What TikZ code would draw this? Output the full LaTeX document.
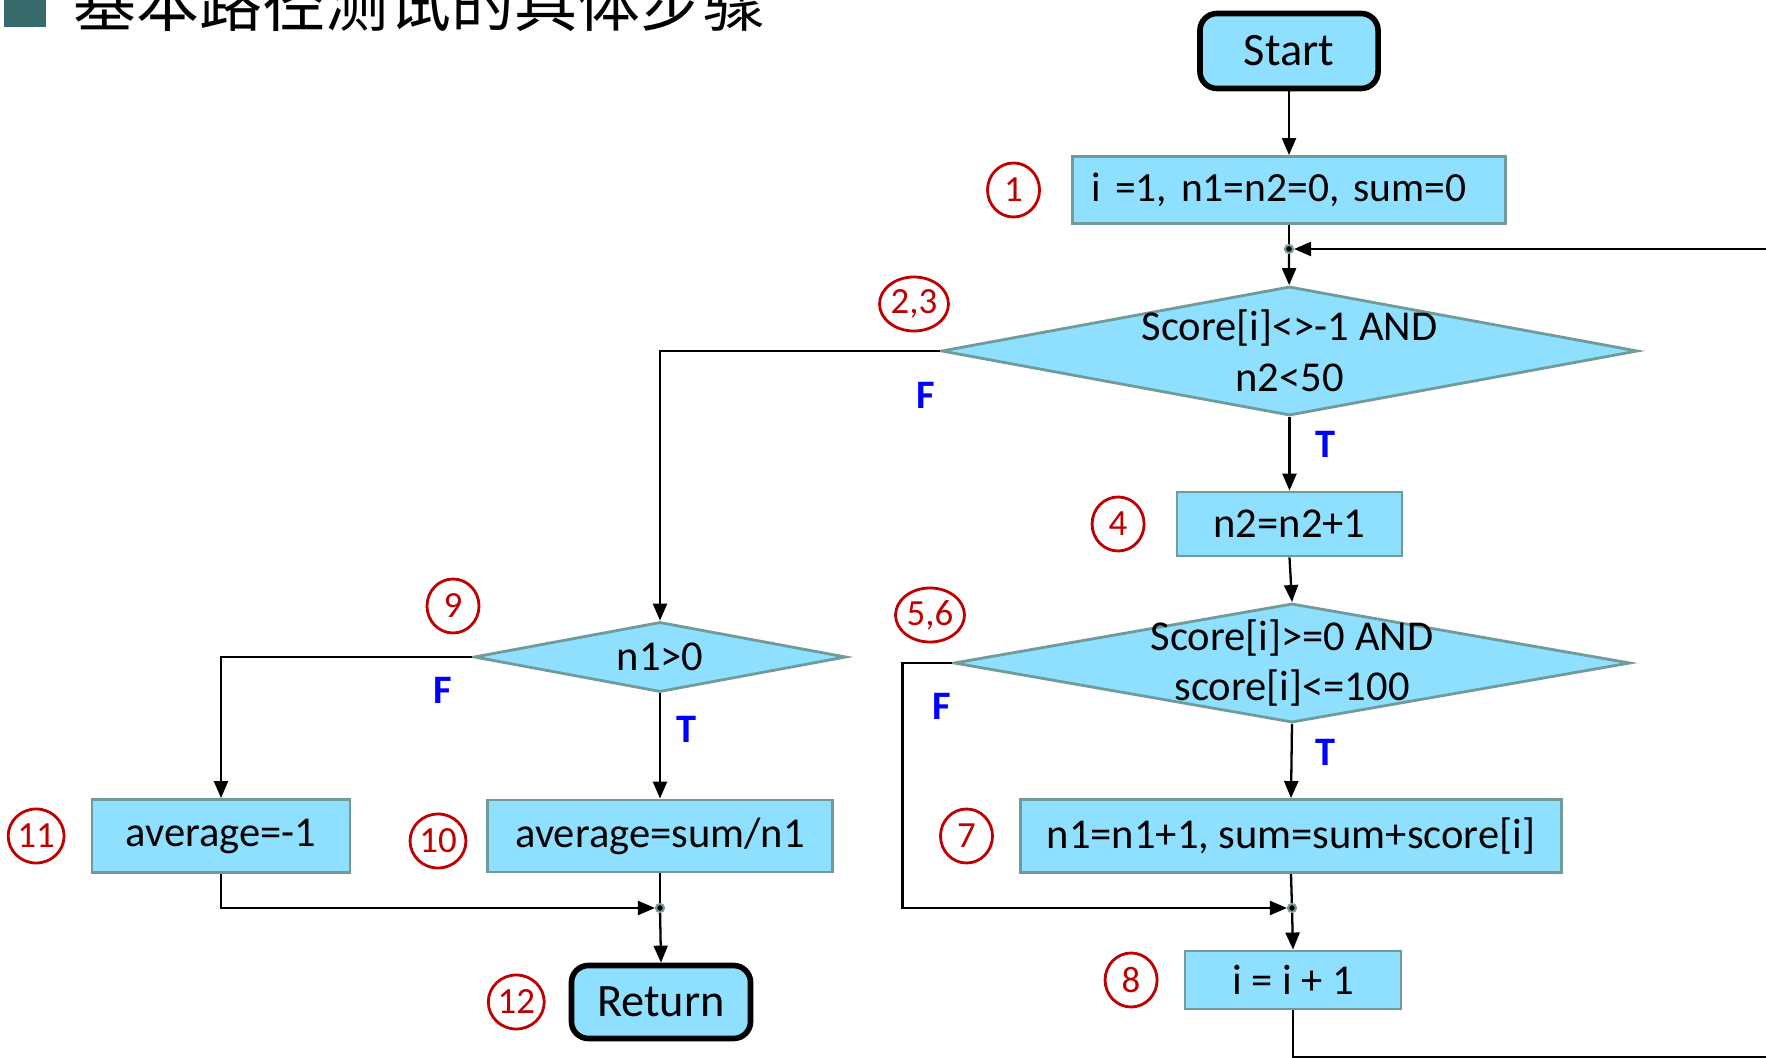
\documentclass[tikz,border=0pt]{standalone}
\usepackage{fontspec}
\setmainfont{Carlito}
\newfontfamily\cjkfont{Noto Sans CJK SC}
\usepackage{tikz}
\usetikzlibrary{positioning, arrows.meta, shapes.geometric}
\definecolor{boxfill}{RGB}{143,224,255}
\definecolor{boxline}{RGB}{112,155,155}
\definecolor{numred}{RGB}{192,0,0}
\definecolor{titlesq}{RGB}{55,106,106}

\begin{document}
\begin{tikzpicture}[
    x=0.01cm, y=-0.01cm,
    node distance=0.25cm,
    proc/.style={draw=boxline, fill=boxfill, line width=0.8pt, inner sep=0pt,
      font=\fontsize{12.1}{14.4}\selectfont},
    term/.style={draw=black, fill=boxfill, line width=1.6pt, rounded corners=0.17cm,
      inner sep=0pt, font=\fontsize{13.2}{15}\selectfont},
    cond/.style={diamond, draw=boxline, fill=boxfill, line width=0.8pt, inner sep=0pt},
    condtxt/.style={align=center, inner sep=0pt, font=\fontsize{12.1}{14.4}\selectfont},
    num/.style={ellipse, draw=numred, text=numred, line width=0.8pt, inner sep=0.3pt,
      minimum width=0.52cm, minimum height=0.54cm, font=\fontsize{10.5}{10.5}\selectfont},
    tf/.style={text=blue, font=\fontsize{11.5}{12}\selectfont\bfseries},
    junc/.style={circle, draw=boxline, fill=black, line width=0.6pt, inner sep=0pt,
      minimum size=0.08cm},
    arr/.style={-{Triangle[length=1.7mm, width=1.4mm]}, line width=0.65pt},
    ln/.style={line width=0.65pt}
  ]
  \useasboundingbox (0,0) rectangle (1766,1058);

  \fill[titlesq] (4,-15) rectangle (46,27);
  \node[anchor=base west, inner sep=0pt, font=\cjkfont\fontsize{17.9}{18}\selectfont]
    (title) at (73,27) {基本路径测试的具体步骤};

  \node[term, minimum width=1.78cm, minimum height=0.75cm] (start) at (1289,51) {Start};
  \node[proc, minimum width=4.33cm, minimum height=0.67cm, text width=3.94cm, align=left,
    font=\fontsize{11.8}{14}\selectfont] (init) at (1289,190) {i =1, n1=n2=0, sum=0};
  \node[junc] (j1) at (1289,249) {};
  \node[cond, minimum width=6.96cm, minimum height=1.29cm,
    label={[condtxt]center:{Score[i]<>-1 AND\\n2<50}}] (d1) at (1289.5,351) {};
  \node[proc, minimum width=2.25cm, minimum height=0.64cm] (n2box) at (1289.5,524) {n2=n2+1};
  \node[cond, minimum width=6.76cm, minimum height=1.19cm,
    label={[condtxt]center:{Score[i]>=0 AND\\score[i]<=100}}] (d2) at (1292,663) {};
  \node[proc, minimum width=5.41cm, minimum height=0.73cm] (b7) at (1291,836)
    {n1=n1+1, sum=sum+score[i]};
  \node[junc] (j2) at (1292,908) {};
  \node[proc, minimum width=2.16cm, minimum height=0.58cm] (b8) at (1293,980) {i = i + 1};

  \node[cond, minimum width=3.72cm, minimum height=0.70cm,
    label={[condtxt]center:n1>0}] (d3) at (660,657) {};
  \node[proc, minimum width=2.58cm, minimum height=0.73cm] (b11) at (221,836) {average=-1};
  \node[proc, minimum width=3.44cm, minimum height=0.72cm] (b10) at (660,836) {average=sum/n1};
  \node[junc] (j3) at (660,908) {};
  \node[term, minimum width=1.79cm, minimum height=0.73cm] (ret) at (661,1002) {Return};

  \node[num, left=0.3cm of init] (c1) {1};
  \node[num] (c23) at (914,304) {2,3};
  \node[num, left=0.3cm of n2box] (c4) {4};
  \node[num] (c56) at (930,615) {5,6};
  \node[num, left=of b7] (c7) {7};
  \node[num, left=of b8] (c8) {8};
  \node[num] (c9) at (453,606) {9};
  \node[num] (c10) at (438,841) {10};
  \node[num, left=of b11] (c11) {11};
  \node[num, left=0.23cm of ret] (c12) {12};

  \node[tf] (f1) at (926,395) {F};
  \node[tf] (t1) at (1325,444) {T};
  \node[tf] (f2) at (942,706) {F};
  \node[tf] (t2) at (1325,752) {T};
  \node[tf] (f3) at (443,690) {F};
  \node[tf] (t3) at (687,729) {T};

  \draw[arr] (start) -- (init);
  \draw[ln] (init) -- (j1);
  \draw[arr] (j1) -- (d1);
  \draw[arr] (d1.west) -| (d3.north);
  \draw[arr] (d1.south) -- (n2box.north);
  \draw[arr] (n2box.south) -- (d2.north);
  \draw[arr] (d2.west) -- ++(-50,0) |- (j2);
  \draw[arr] (d2.south) -- (b7.north);
  \draw[ln] (b7.south) -- (j2);
  \draw[arr] (j2) -- (b8.north);
  \draw[arr] (b8.south) |- (1800,1057) |- (j1);
  \draw[arr] (d3.west) -| (b11.north);
  \draw[arr] (d3.south) -- (b10.north);
  \draw[arr] (b11.south) |- (j3);
  \draw[ln] (b10.south) -- (j3);
  \draw[arr] (j3) -- (ret.north);
\end{tikzpicture}
\end{document}
